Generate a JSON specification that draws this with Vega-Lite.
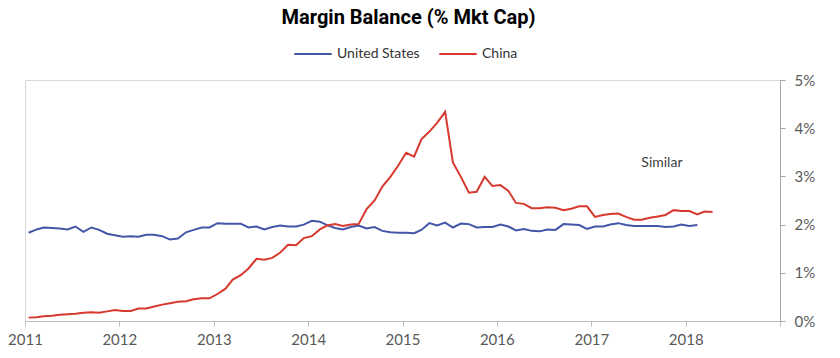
{
 "$schema": "https://vega.github.io/schema/vega-lite/v6.json",
 "width": 755, "height": 241,
 "autosize": {"type": "none"},
 "padding": {"left": 25, "top": 80, "right": 60, "bottom": 37},
 "background": "white",
 "title": {"text": "Margin Balance (% Mkt Cap)", "font": "Roboto", "fontSize": 20, "fontWeight": "bold", "color": "#000000", "anchor": "middle", "offset": 6, "dx": 6},
 "config": {"view": {"stroke": "#d9d9d9", "strokeWidth": 1}, "font": "Lato"},
 "layer": [
  {
   "data": {"values": [
    {"date":"2011-01-15","United States":1.83,"China":0.07},
    {"date":"2011-02-15","United States":1.90,"China":0.08},
    {"date":"2011-03-15","United States":1.94,"China":0.10},
    {"date":"2011-04-15","United States":1.93,"China":0.11},
    {"date":"2011-05-15","United States":1.92,"China":0.13},
    {"date":"2011-06-15","United States":1.90,"China":0.14},
    {"date":"2011-07-15","United States":1.96,"China":0.15},
    {"date":"2011-08-15","United States":1.85,"China":0.17},
    {"date":"2011-09-15","United States":1.94,"China":0.18},
    {"date":"2011-10-15","United States":1.89,"China":0.17},
    {"date":"2011-11-15","United States":1.81,"China":0.20},
    {"date":"2011-12-15","United States":1.78,"China":0.23},
    {"date":"2012-01-15","United States":1.75,"China":0.21},
    {"date":"2012-02-15","United States":1.76,"China":0.21},
    {"date":"2012-03-15","United States":1.75,"China":0.26},
    {"date":"2012-04-15","United States":1.79,"China":0.26},
    {"date":"2012-05-15","United States":1.79,"China":0.30},
    {"date":"2012-06-15","United States":1.76,"China":0.34},
    {"date":"2012-07-15","United States":1.69,"China":0.37},
    {"date":"2012-08-15","United States":1.71,"China":0.40},
    {"date":"2012-09-15","United States":1.84,"China":0.41},
    {"date":"2012-10-15","United States":1.89,"China":0.45},
    {"date":"2012-11-15","United States":1.94,"China":0.47},
    {"date":"2012-12-15","United States":1.94,"China":0.47},
    {"date":"2013-01-15","United States":2.03,"China":0.56},
    {"date":"2013-02-15","United States":2.02,"China":0.67},
    {"date":"2013-03-15","United States":2.02,"China":0.86},
    {"date":"2013-04-15","United States":2.02,"China":0.95},
    {"date":"2013-05-15","United States":1.94,"China":1.09},
    {"date":"2013-06-15","United States":1.96,"China":1.29},
    {"date":"2013-07-15","United States":1.90,"China":1.27},
    {"date":"2013-08-15","United States":1.95,"China":1.31},
    {"date":"2013-09-15","United States":1.98,"China":1.42},
    {"date":"2013-10-15","United States":1.96,"China":1.58},
    {"date":"2013-11-15","United States":1.96,"China":1.57},
    {"date":"2013-12-15","United States":2.00,"China":1.72},
    {"date":"2014-01-15","United States":2.08,"China":1.76},
    {"date":"2014-02-15","United States":2.06,"China":1.90},
    {"date":"2014-03-15","United States":1.99,"China":1.98},
    {"date":"2014-04-15","United States":1.93,"China":2.01},
    {"date":"2014-05-15","United States":1.90,"China":1.97},
    {"date":"2014-06-15","United States":1.95,"China":2.00},
    {"date":"2014-07-15","United States":1.98,"China":2.01},
    {"date":"2014-08-15","United States":1.92,"China":2.32},
    {"date":"2014-09-15","United States":1.95,"China":2.50},
    {"date":"2014-10-15","United States":1.87,"China":2.79},
    {"date":"2014-11-15","United States":1.84,"China":2.99},
    {"date":"2014-12-15","United States":1.83,"China":3.22},
    {"date":"2015-01-15","United States":1.83,"China":3.49},
    {"date":"2015-02-15","United States":1.82,"China":3.41},
    {"date":"2015-03-15","United States":1.89,"China":3.77},
    {"date":"2015-04-15","United States":2.03,"China":3.93},
    {"date":"2015-05-15","United States":1.98,"China":4.11},
    {"date":"2015-06-15","United States":2.04,"China":4.34},
    {"date":"2015-07-15","United States":1.94,"China":3.29},
    {"date":"2015-08-15","United States":2.02,"China":2.99},
    {"date":"2015-09-15","United States":2.01,"China":2.66},
    {"date":"2015-10-15","United States":1.94,"China":2.68},
    {"date":"2015-11-15","United States":1.95,"China":2.99},
    {"date":"2015-12-15","United States":1.95,"China":2.80},
    {"date":"2016-01-15","United States":2.00,"China":2.82},
    {"date":"2016-02-15","United States":1.96,"China":2.70},
    {"date":"2016-03-15","United States":1.88,"China":2.45},
    {"date":"2016-04-15","United States":1.91,"China":2.43},
    {"date":"2016-05-15","United States":1.87,"China":2.34},
    {"date":"2016-06-15","United States":1.86,"China":2.34},
    {"date":"2016-07-15","United States":1.90,"China":2.36},
    {"date":"2016-08-15","United States":1.89,"China":2.35},
    {"date":"2016-09-15","United States":2.01,"China":2.30},
    {"date":"2016-10-15","United States":2.00,"China":2.33},
    {"date":"2016-11-15","United States":1.99,"China":2.38},
    {"date":"2016-12-15","United States":1.91,"China":2.38},
    {"date":"2017-01-15","United States":1.96,"China":2.16},
    {"date":"2017-02-15","United States":1.96,"China":2.20},
    {"date":"2017-03-15","United States":2.00,"China":2.22},
    {"date":"2017-04-15","United States":2.03,"China":2.23},
    {"date":"2017-05-15","United States":1.99,"China":2.16},
    {"date":"2017-06-15","United States":1.97,"China":2.10},
    {"date":"2017-07-15","United States":1.97,"China":2.10},
    {"date":"2017-08-15","United States":1.97,"China":2.14},
    {"date":"2017-09-15","United States":1.97,"China":2.17},
    {"date":"2017-10-15","United States":1.95,"China":2.20},
    {"date":"2017-11-15","United States":1.96,"China":2.30},
    {"date":"2017-12-15","United States":2.00,"China":2.28},
    {"date":"2018-01-15","United States":1.97,"China":2.28},
    {"date":"2018-02-15","United States":1.99,"China":2.21},
    {"date":"2018-03-15","China":2.27},
    {"date":"2018-04-15","China":2.26}
   ]},
   "transform": [{"fold": ["United States", "China"], "as": ["series", "value"]}, {"filter": "isValid(datum.value)"}],
   "mark": {"type": "line", "strokeWidth": 2},
   "encoding": {
    "x": {"field": "date", "type": "temporal",
     "scale": {"domain": ["2011-01-01", "2019-01-01"]},
     "axis": {"title": null, "format": "%Y", "tickCount": {"interval": "year", "step": 1},
      "labelExpr": "year(datum.value) > 2018 ? '' : timeFormat(datum.value, '%Y')",
      "grid": false, "domainColor": "#bfbfbf", "tickColor": "#bfbfbf", "tickSize": 5,
      "labelColor": "#595959", "labelFontSize": 15, "labelPadding": 6, "labelFont": "Lato", "labelFlush": false}},
    "y": {"field": "value", "type": "quantitative",
     "scale": {"domain": [0, 5]},
     "axis": {"title": null, "orient": "right", "values": [0, 1, 2, 3, 4, 5],
      "labelExpr": "datum.value + '%'", "grid": false, "domainColor": "#a6a6a6", "tickColor": "#a6a6a6", "tickSize": 5,
      "labelColor": "#595959", "labelFontSize": 15, "labelPadding": 9, "labelFont": "Lato"}},
    "color": {"field": "series", "type": "nominal",
     "scale": {"domain": ["United States", "China"], "range": ["#4356a8", "#d7392e"]},
     "legend": {"title": null, "orient": "none", "legendX": 268, "legendY": -46, "direction": "horizontal",
      "symbolType": "stroke", "symbolStrokeWidth": 2, "symbolSize": 1400,
      "labelFontSize": 14, "labelColor": "#333333", "labelFont": "Lato", "columnPadding": 15, "labelOffset": 4}}
   }
  },
  {
   "data": {"values": [{"date": "2017-10-01", "value": 3.28, "label": "Similar"}]},
   "mark": {"type": "text", "fontSize": 14, "color": "#404040", "align": "center", "baseline": "middle", "font": "Lato"},
   "encoding": {
    "x": {"field": "date", "type": "temporal"},
    "y": {"field": "value", "type": "quantitative"},
    "text": {"field": "label"}
   }
  }
 ]
}
